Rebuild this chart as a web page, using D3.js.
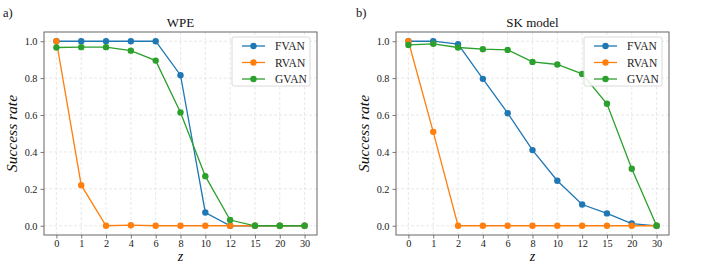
<!DOCTYPE html>
<html><head><meta charset="utf-8">
<script src="https://cdn.jsdelivr.net/npm/d3@7"></script>
<style>body{margin:0;background:#fff}svg{display:block}</style>
</head><body>
<svg id="chart" width="704" height="264"></svg>
<script>
const categories = ["0","1","2","4","6","8","10","12","15","20","30"];
const yTicks = [0.0, 0.2, 0.4, 0.6, 0.8, 1.0];
const seriesNames = ["FVAN","RVAN","GVAN"];
const seriesColors = ["#1f77b4","#ff7f0e","#2ca02c"];
const wpeFVAN = [1.0,1.0,1.0,1.0,1.0,0.816,0.072,0,0,0,0];
const wpeRVAN = [1.0,0.22,0,0.003,0,0,0,0,0,0,0];
const wpeGVAN = [0.966,0.968,0.968,0.949,0.895,0.614,0.269,0.031,0,0,0];
const skFVAN = [1.0,1.0,0.984,0.796,0.61,0.41,0.244,0.115,0.067,0.012,0];
const skRVAN = [1.0,0.509,0,0,0,0,0,0,0,0,0];
const skGVAN = [0.98,0.986,0.966,0.957,0.953,0.888,0.874,0.823,0.661,0.309,0];

const panels = [
  {label:"a)", title:"WPE", left:44, series:[wpeFVAN,wpeRVAN,wpeGVAN], lx:3},
  {label:"b)", title:"SK model", left:396, series:[skFVAN,skRVAN,skGVAN], lx:356}
];
const svg = d3.select("#chart");
const W = 273, plotTop = 32, plotBottom = 235;
const font = "'Liberation Serif', 'Times New Roman', 'DejaVu Serif', serif";

panels.forEach(p => {
  const g = svg.append("g");
  const x = d3.scaleLinear().domain([-0.5, categories.length - 0.5]).range([p.left, p.left + W]);
  const y = d3.scaleLinear().domain([-0.05, 1.05]).range([plotBottom, plotTop]);
  // grid
  g.append("g").selectAll("line").data(categories).join("line")
    .attr("x1",(d,i)=>x(i)).attr("x2",(d,i)=>x(i)).attr("y1",plotTop).attr("y2",plotBottom)
    .attr("stroke","#e3e3e3").attr("stroke-width",0.8).attr("stroke-dasharray","3,2");
  g.append("g").selectAll("line").data(yTicks).join("line")
    .attr("x1",p.left).attr("x2",p.left+W).attr("y1",d=>y(d)).attr("y2",d=>y(d))
    .attr("stroke","#e3e3e3").attr("stroke-width",0.8).attr("stroke-dasharray","3,2");
  // axes
  const xa = g.append("g").attr("transform",`translate(0,${plotBottom})`)
    .call(d3.axisBottom(x).tickValues(d3.range(categories.length)).tickFormat(i=>categories[i]).tickSize(3.5).tickPadding(0.8));
  const ya = g.append("g").attr("transform",`translate(${p.left},0)`)
    .call(d3.axisLeft(y).tickValues(yTicks).tickFormat(d3.format(".1f")).tickSize(3.5).tickPadding(3));
  [xa,ya].forEach(a=>{
    a.attr("font-family",font);
    a.select(".domain").remove();
    a.selectAll(".tick line").attr("stroke","#555").attr("stroke-width",0.8);
    a.selectAll("text").attr("font-family",font).attr("font-size",10.3).attr("fill","#222");
  });
  g.append("rect").attr("x",p.left).attr("y",plotTop).attr("width",W).attr("height",plotBottom-plotTop)
    .attr("fill","none").attr("stroke","#666").attr("stroke-width",1);
  // series
  p.series.forEach((vals,si)=>{
    const line = d3.line().x((d,i)=>x(i)).y(d=>y(d));
    g.append("path").datum(vals).attr("d",line).attr("fill","none")
      .attr("stroke",seriesColors[si]).attr("stroke-width",1.3);
    g.append("g").selectAll("circle").data(vals).join("circle")
      .attr("cx",(d,i)=>x(i)).attr("cy",d=>y(d)).attr("r",3.2).attr("fill",seriesColors[si]);
  });
  // legend
  const lg = g.append("g");
  const lx0 = p.left + 188, ly0 = 37;
  lg.append("rect").attr("x",lx0).attr("y",ly0).attr("width",78).attr("height",49).attr("rx",2)
    .attr("fill","#fff").attr("fill-opacity",0.85).attr("stroke","#d0d0d0").attr("stroke-width",0.8);
  seriesNames.forEach((n,i)=>{
    const yy = ly0 + 9 + i*16.5;
    lg.append("line").attr("x1",lx0+10).attr("x2",lx0+33).attr("y1",yy).attr("y2",yy)
      .attr("stroke",seriesColors[i]).attr("stroke-width",1.3);
    lg.append("circle").attr("cx",lx0+21.5).attr("cy",yy).attr("r",3.2).attr("fill",seriesColors[i]);
    lg.append("text").attr("x",lx0+43).attr("y",yy+4).text(n)
      .attr("font-family",font).attr("font-size",11.5).attr("fill","#222");
  });
  // titles
  g.append("text").attr("x",p.left+W/2).attr("y",27).attr("text-anchor","middle")
    .attr("font-family",font).attr("font-size",13).attr("fill","#111").text(p.title);
  g.append("text").attr("x",p.lx).attr("y",17).attr("font-family",font).attr("font-size",12.5).attr("fill","#111").text(p.label);
  g.append("text").attr("transform",`translate(${p.left-27},${(plotTop+plotBottom)/2}) rotate(-90)`)
    .attr("text-anchor","middle").attr("font-family",font).attr("font-style","italic")
    .attr("font-size",15.5).attr("fill","#111").text("Success rate");
  g.append("text").attr("x",p.left+W/2).attr("y",260.8).attr("text-anchor","middle")
    .attr("font-family",font).attr("font-style","italic").attr("font-size",14).attr("fill","#111").text("z");
});
</script>
</body></html>
